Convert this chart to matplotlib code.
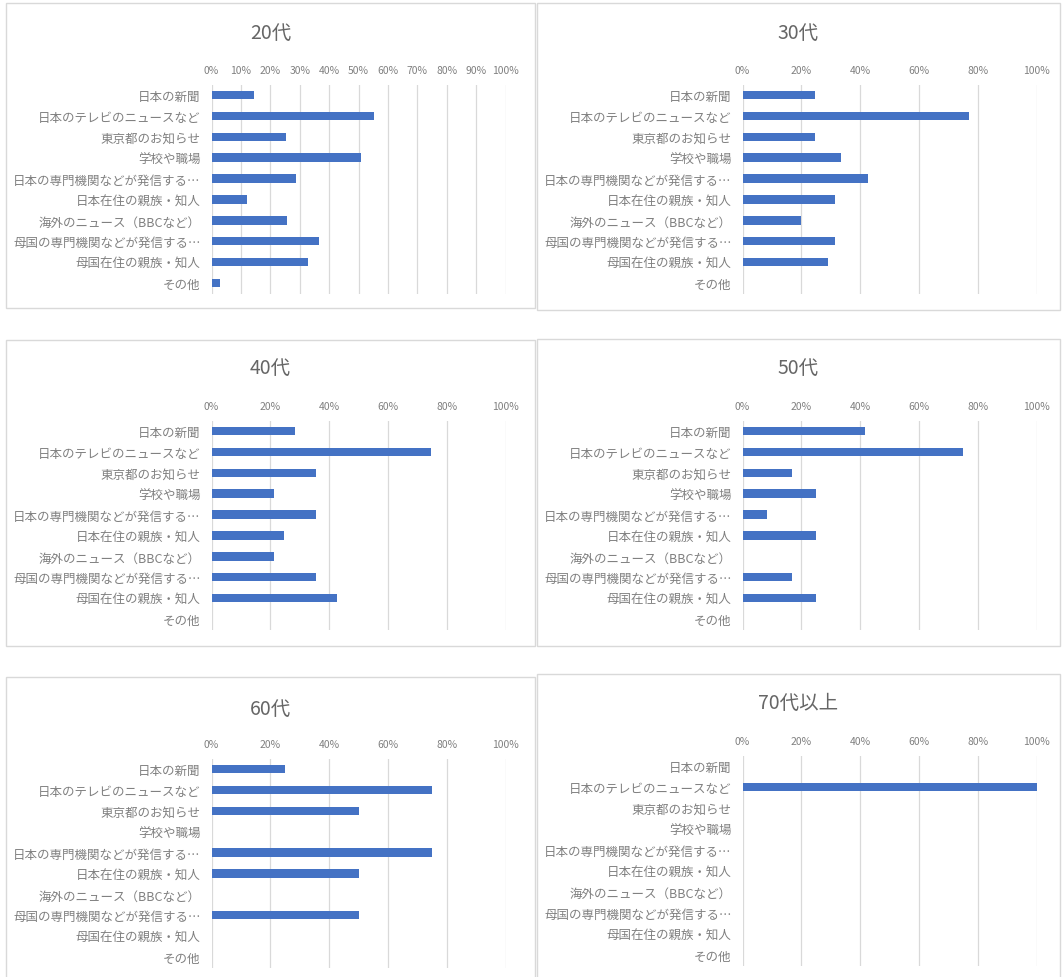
import matplotlib
matplotlib.use('Agg')
import matplotlib.pyplot as plt
from matplotlib.patches import Rectangle
from matplotlib.ticker import PercentFormatter, MultipleLocator

plt.rcParams['font.family'] = ['Noto Sans CJK JP', 'DejaVu Sans']

categories = [
    '日本の新聞',
    '日本のテレビのニュースなど',
    '東京都のお知らせ',
    '学校や職場',
    '日本の専門機関などが発信する…',
    '日本在住の親族・知人',
    '海外のニュース（BBCなど）',
    '母国の専門機関などが発信する…',
    '母国在住の親族・知人',
    'その他',
]

titles = ['20代', '30代', '40代', '50代', '60代', '70代以上']

v20 = [0.143, 0.553, 0.252, 0.510, 0.288, 0.120, 0.256, 0.365, 0.327, 0.029]
v30 = [0.246, 0.769, 0.246, 0.335, 0.428, 0.316, 0.200, 0.316, 0.291, 0.0]
v40 = [0.283, 0.746, 0.354, 0.212, 0.354, 0.247, 0.212, 0.354, 0.426, 0.0]
v50 = [0.417, 0.750, 0.167, 0.250, 0.083, 0.250, 0.0, 0.167, 0.250, 0.0]
v60 = [0.250, 0.750, 0.500, 0.0, 0.750, 0.500, 0.0, 0.500, 0.0, 0.0]
v70 = [0.0, 1.000, 0.0, 0.0, 0.0, 0.0, 0.0, 0.0, 0.0, 0.0]
series = [v20, v30, v40, v50, v60, v70]
tick_steps = [0.1, 0.2, 0.2, 0.2, 0.2, 0.2]

W, H = 1062, 978
fig = plt.figure(figsize=(W / 100, H / 100), dpi=100)
fig.patch.set_facecolor('white')

BAR = '#4472C4'
GRID = '#D9D9D9'
TXT = '#808080'
TTL = '#666666'

# (box x0, y0, x1, y1), axes left px, axes top px, axes bottom px, title y px
layout = [
    ((6, 4, 535, 309), 211.5, 85.5, 294.5, 33),
    ((537, 4, 1060, 311), 742.5, 85.5, 294.5, 33),
    ((6, 341, 535, 647), 211.5, 421.5, 630.5, 368),
    ((537, 340, 1060, 647), 742.5, 421.5, 630.5, 368),
    ((6, 678, 535, 995), 211.5, 759.5, 968.5, 709),
    ((537, 675, 1060, 995), 742.5, 756.5, 966.5, 703),
]
AX_W = 294

for (box, left, top, bottom, ty), title, vals, step in zip(layout, titles, series, tick_steps):
    x0, y0, x1, y1 = box
    fig.patches.append(Rectangle((x0 / W, 1 - y1 / H), (x1 - x0) / W, (y1 - y0) / H,
                                 transform=fig.transFigure, fill=False,
                                 edgecolor=GRID, linewidth=1.0, zorder=0))
    fig.text((x0 + x1) / 2 / W, 1 - ty / H, title, ha='center', va='center',
             fontsize=14, color=TTL)
    ax = fig.add_axes([left / W, 1 - bottom / H, AX_W / W, (bottom - top) / H])
    ax.set_facecolor('none')
    ax.barh(range(len(categories)), vals, height=0.4, color=BAR, zorder=3)
    ax.set_ylim(len(categories) - 0.5, -0.5)
    ax.set_xlim(0, 1.0)
    ax.set_yticks(range(len(categories)))
    ax.set_yticklabels(categories)
    ax.xaxis.set_major_locator(MultipleLocator(step))
    ax.xaxis.set_major_formatter(PercentFormatter(1.0, decimals=0))
    ax.xaxis.tick_top()
    ax.grid(axis='x', color=GRID, linewidth=0.9, zorder=0)
    ax.set_axisbelow(True)
    for s in ax.spines.values():
        s.set_visible(False)
    ax.tick_params(axis='x', length=0, pad=7, labelsize=7.5, labelcolor=TXT)
    ax.tick_params(axis='y', length=0, pad=8, labelsize=9.0, labelcolor=TXT)

fig.savefig('out.png', dpi=100, facecolor='white')
